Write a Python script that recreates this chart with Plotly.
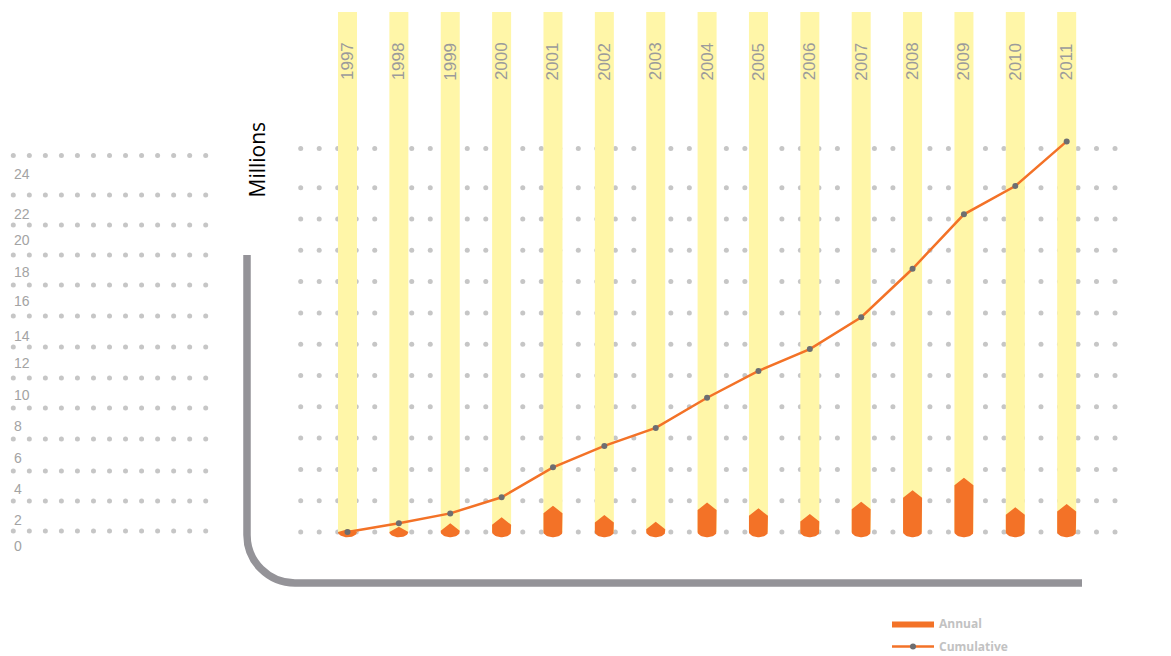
import numpy as np
import plotly.graph_objects as go

# ---------------- data ----------------
years = list(range(1997, 2012))
annual = [0.17, 0.34, 0.56, 0.94, 1.68, 1.09, 0.66, 1.88, 1.51, 1.15, 1.94, 2.66, 3.47, 1.58, 1.79]
cumulative = [0.0, 0.56, 1.19, 2.22, 4.13, 5.50, 6.65, 8.58, 10.29, 11.69, 13.72, 16.82, 20.30, 22.11, 24.96]
left_tick_labels = ["24", "22", "20", "18", "16", "14", "12", "10", "8", "6", "4", "2", "0"]
grid_rows = [0, 2, 4, 6, 8, 10, 12, 14, 16, 18, 20, 22, 24.5]

# ---------------- layout geometry (page pixels) ----------------
PAGE_W, PAGE_H = 1171, 656
OFF = 8                                 # default body margin of the page
W, H = PAGE_W - OFF, PAGE_H - OFF       # figure size
X0_PX, PX_PER_YEAR = 347.5, 51.37       # page pixel of 1997, pixels per year
Y0_PX, PX_PER_UNIT = 532.0, 15.65       # page pixel of 0, pixels per million


def X(px):
    return years[0] + (px - X0_PX) / PX_PER_YEAR


def Y(py):
    return (Y0_PX - py) / PX_PER_UNIT


def fx(px):
    return (px - OFF) / W


def fy(py):
    return 1 - (py - OFF) / H


ORANGE = "#f37227"
YELLOW = "#fff6a8"
DOT = "#c6c6c6"
AXIS_GRAY = "#949398"

band_w = 19 / PX_PER_YEAR
tip_h = 7.5 / PX_PER_UNIT
round_d = 5.3 / PX_PER_UNIT
band_top = Y(12)

fig = go.Figure()

# grid dots of the main area
gx = np.linspace(X(300.7), X(1115), 45)
GX, GY = np.meshgrid(gx, grid_rows)
fig.add_trace(go.Scatter(x=GX.ravel(), y=GY.ravel(), mode="markers",
                         marker=dict(size=5, color=DOT), hoverinfo="skip",
                         showlegend=False))

# left decorative scale dots
left_rows_px = [155.5, 195, 225, 255, 285, 316, 347, 378, 408, 439, 471, 501, 531]
lx = np.linspace(X(13.3), X(205.7), 13)
LX, LY = np.meshgrid(lx, [Y(p) for p in left_rows_px])
fig.add_trace(go.Scatter(x=LX.ravel(), y=LY.ravel(), mode="markers",
                         marker=dict(size=5, color=DOT), hoverinfo="skip",
                         showlegend=False))

# yellow year bands
bx, by = [], []
for yr in years:
    bx += [yr - band_w / 2, yr + band_w / 2, yr + band_w / 2, yr - band_w / 2, yr - band_w / 2, None]
    by += [0, 0, band_top, band_top, 0, None]
fig.add_trace(go.Scatter(x=bx, y=by, mode="lines", fill="toself", fillcolor=YELLOW,
                         line=dict(width=0, color=YELLOW), hoverinfo="skip",
                         showlegend=False))

# annual bullet-shaped bars
ax_, ay_ = [], []
t = np.linspace(0, np.pi, 24)
hw = band_w / 2
for yr, v in zip(years, annual):
    sh = max(v - tip_h, 0)
    xs = [yr - hw, yr, yr + hw, yr + hw] + list(yr + hw * np.cos(t)) + [yr - hw, None]
    ys = [sh, v, sh, 0] + list(-round_d * np.sin(t)) + [sh, None]
    ax_ += xs
    ay_ += ys
fig.add_trace(go.Scatter(x=ax_, y=ay_, mode="lines", fill="toself", fillcolor=ORANGE,
                         line=dict(width=0, color=ORANGE), name="Annual",
                         hoverinfo="skip", legendgroup="a"))

# cumulative line
fig.add_trace(go.Scatter(x=years, y=cumulative, mode="lines+markers", name="Cumulative",
                         line=dict(color=ORANGE, width=2.5),
                         marker=dict(color="#6d6e71", size=6), legendgroup="b"))

annotations = []
for yr in years:
    annotations.append(dict(x=yr, y=Y(61.5), xref="x", yref="y", text=str(yr),
                            textangle=-90, showarrow=False, xanchor="center", yanchor="middle",
                            font=dict(family="Liberation Sans", size=17, color="#9b9b9b")))

label_px = [174, 214, 240, 272, 301, 336, 363, 395, 426, 458, 489, 520, 546]
for lab, p in zip(left_tick_labels, label_px):
    annotations.append(dict(x=fx(12), y=fy(p), xref="paper", yref="paper", text=lab,
                            xanchor="left", yanchor="middle", showarrow=False,
                            font=dict(family="Liberation Sans", size=14, color="#a3a3a3")))

annotations.append(dict(x=fx(256.5), y=fy(160), xref="paper", yref="paper", text="Millions",
                        textangle=-90, showarrow=False, xanchor="center", yanchor="middle",
                        font=dict(family="Open Sans", size=21, color="#000000")))

# L-shaped axis line
r = 48
k = 0.5523 * r
vx, top, hy, right = 247, 255, 583, 1082
path = (f"M {fx(vx)},{fy(top)} L {fx(vx)},{fy(hy - r)} "
        f"C {fx(vx)},{fy(hy - r + k)} {fx(vx + r - k)},{fy(hy)} {fx(vx + r)},{fy(hy)} "
        f"L {fx(right)},{fy(hy)}")
shapes = [dict(type="path", path=path, xref="paper", yref="paper",
               line=dict(color=AXIS_GRAY, width=7.5))]

fig.update_layout(
    width=W, height=H, autosize=False,
    margin=dict(l=0, r=0, t=0, b=0, autoexpand=False),
    paper_bgcolor="white", plot_bgcolor="white",
    xaxis=dict(range=[X(OFF), X(PAGE_W)], visible=False, fixedrange=True),
    yaxis=dict(range=[Y(PAGE_H), Y(OFF)], visible=False, fixedrange=True),
    annotations=annotations, shapes=shapes,
    legend=dict(x=fx(887), y=fy(609), xanchor="left", yanchor="top",
                bgcolor="rgba(0,0,0,0)", traceorder="grouped", tracegroupgap=4,
                itemwidth=42,
                font=dict(family="Open Sans", size=12, color="#c2c2c2", weight="bold")),
    showlegend=True,
)

fig.write_html("out.html")
